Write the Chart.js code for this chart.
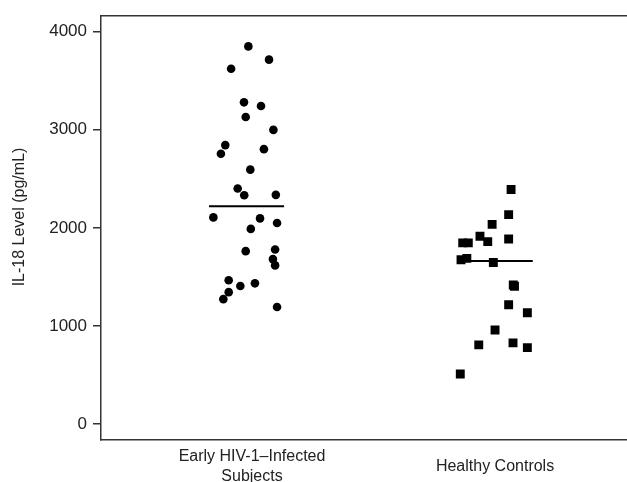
<!DOCTYPE html>
<html>
<head>
<meta charset="utf-8">
<script src="https://cdn.jsdelivr.net/npm/chart.js@4.4.1/dist/chart.umd.min.js"></script>
<style>
    html, body { margin: 0; padding: 0; background: #fff; }
    #wrap { width: 627px; height: 482px; }
</style>
</head>
<body>
<div id="wrap"><canvas id="il18Chart" width="627" height="482"></canvas></div>
<script>
// categories (x positions 1 and 2)
var groupLabels = [['Early HIV-1\u2013Infected', 'Subjects'], 'Healthy Controls'];
var yTicks = [0, 1000, 2000, 3000, 4000];
var yTitle = 'IL-18 Level (pg/mL)';

// Early HIV-1-infected subjects: jittered x around 1, IL-18 in pg/mL
var hivX = [0.985, 1.070, 0.914, 0.967, 1.037, 0.974, 1.088, 0.890, 0.872, 1.049,
            0.993, 0.941, 0.968, 1.098, 0.841, 1.033, 1.103, 0.995, 0.974, 1.095,
            1.086, 1.095, 0.904, 0.952, 1.012, 0.904, 0.882, 1.103];
var hivY = [3850, 3715, 3623, 3280, 3242, 3131, 2999, 2844, 2756, 2803,
            2594, 2401, 2333, 2337, 2107, 2097, 2050, 1990, 1763, 1780,
            1682, 1618, 1466, 1408, 1435, 1345, 1274, 1193];

// Healthy controls: jittered x around 2
var ctrlX = [2.066, 2.056, 1.988, 1.938, 1.867, 1.890, 1.970, 2.056, 1.860, 1.884,
             1.993, 2.075, 2.080, 2.056, 2.133, 2.000, 1.933, 2.074, 2.133, 1.857];
var ctrlY = [2391, 2135, 2036, 1915, 1847, 1847, 1860, 1887, 1675, 1689,
             1648, 1418, 1405, 1216, 1135, 960, 808, 828, 780, 510];

// median bars
var hivMedian = 2222;
var ctrlMedian = 1662;
var hivBarX = [0.823, 1.132];
var ctrlBarX = [1.846, 2.155];

function toPoints(xs, ys) {
    return xs.map(function (x, i) { return { x: x, y: ys[i] }; });
}

var axisColor = '#333333';
var textColor = '#222222';
var fontFamily = '"Liberation Sans", Arial, Helvetica, sans-serif';

// y-axis title, drawn a bit above the axis centre like the original
var yTitlePlugin = {
    id: 'yTitlePlugin',
    afterDraw: function (chart) {
        var c = chart.ctx;
        c.save();
        c.translate(19.5, 217);
        c.rotate(-Math.PI / 2);
        c.font = '16px ' + fontFamily;
        c.fillStyle = textColor;
        c.textAlign = 'center';
        c.textBaseline = 'middle';
        c.fillText(yTitle, 0, 0);
        c.restore();
    }
};

document.addEventListener("DOMContentLoaded", function () {
    var ctx = document.getElementById('il18Chart').getContext('2d');
    var chart = new Chart(ctx, {
        type: 'scatter',
        data: {
            datasets: [
                {
                    label: 'Early HIV-1-Infected Subjects',
                    data: toPoints(hivX, hivY),
                    pointStyle: 'circle',
                    pointRadius: 4.3,
                    backgroundColor: '#000',
                    borderColor: '#000',
                    borderWidth: 0
                },
                {
                    label: 'Healthy Controls',
                    data: toPoints(ctrlX, ctrlY),
                    pointStyle: 'rect',
                    pointRadius: 6.3,
                    backgroundColor: '#000',
                    borderColor: '#000',
                    borderWidth: 0
                },
                {
                    type: 'line',
                    label: 'median HIV',
                    data: hivBarX.map(function (x) { return { x: x, y: hivMedian }; }),
                    borderColor: '#000',
                    borderWidth: 2,
                    pointRadius: 0,
                    fill: false
                },
                {
                    type: 'line',
                    label: 'median controls',
                    data: ctrlBarX.map(function (x) { return { x: x, y: ctrlMedian }; }),
                    borderColor: '#000',
                    borderWidth: 2,
                    pointRadius: 0,
                    fill: false
                }
            ]
        },
        options: {
            responsive: false,
            animation: false,
            layout: { autoPadding: false, padding: { top: 13, right: 0, left: 0, bottom: 0 } },
            plugins: {
                legend: { display: false },
                tooltip: { enabled: false }
            },
            scales: {
                x: {
                    type: 'linear',
                    position: 'bottom',
                    min: 0.3786,
                    max: 2.543,
                    afterBuildTicks: function (scale) {
                        scale.ticks = [{ value: 1 }, { value: 2 }];
                    },
                    afterFit: function (scale) { scale.height = 42; },
                    grid: { display: false, drawTicks: false },
                    border: { display: true, color: axisColor, width: 1.5 },
                    ticks: {
                        autoSkip: false,
                        maxRotation: 0,
                        crossAlign: 'center',
                        padding: 17,
                        color: textColor,
                        font: { family: fontFamily, size: 16 },
                        callback: function (value) {
                            return groupLabels[Math.round(value) - 1];
                        }
                    }
                },
                xTop: {
                    type: 'linear',
                    position: 'top',
                    min: 0.3786,
                    max: 2.543,
                    afterFit: function (scale) { scale.height = 0; },
                    grid: { display: false, drawTicks: false },
                    border: { display: true, color: axisColor, width: 1.5 },
                    ticks: { display: false }
                },
                y: {
                    min: -162,
                    max: 4158,
                    afterBuildTicks: function (scale) {
                        scale.ticks = yTicks.map(function (v) { return { value: v }; });
                    },
                    afterFit: function (scale) { scale.width = 101; },
                    grid: {
                        display: true,
                        drawOnChartArea: false,
                        drawTicks: true,
                        tickLength: 8,
                        color: axisColor,
                        lineWidth: 1.5
                    },
                    border: { display: true, color: axisColor, width: 1.5 },
                    ticks: {
                        padding: 6,
                        color: textColor,
                        font: { family: fontFamily, size: 17 },
                        callback: function (value) { return String(value); }
                    },
                    title: { display: false }
                }
            }
        },
        plugins: [yTitlePlugin]
    });
});
</script>
</body>
</html>
